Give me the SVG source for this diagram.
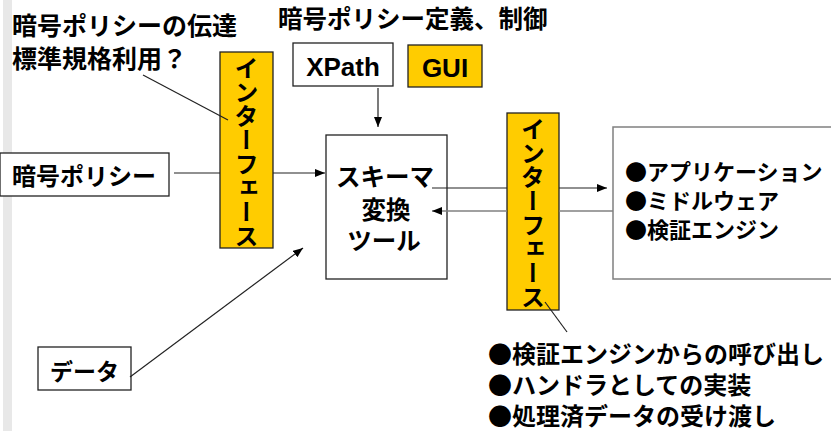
<svg xmlns="http://www.w3.org/2000/svg" width="831" height="431" viewBox="0 0 831 431">
<style>
.t{font-family:"Noto Sans CJK JP","Liberation Sans",sans-serif;font-weight:700;fill:#000}
.lat{font-family:"Liberation Sans",Arial,sans-serif;font-weight:700;fill:#000}
.box{fill:#fff;stroke:#222;stroke-width:1.3}
.gold{fill:#FFCC00;stroke:#222;stroke-width:1.3}
.gbox{fill:#fff;stroke:#808080;stroke-width:1.5}
.ln{stroke:#222;stroke-width:1.2;fill:none}
.gl{stroke:#808080;stroke-width:1.5;fill:none}
</style>
<defs>
<marker id="ah" markerUnits="userSpaceOnUse" markerWidth="11" markerHeight="9" refX="10" refY="4" orient="auto">
<path d="M0,0 L10,4 L0,8 z" fill="#000"/>
</marker>
</defs>
<rect x="3" y="0" width="9" height="431" fill="#E8E8E8"/>
<g id="label-top-left">
<text class="t" x="12" y="35" font-size="25">暗号ポリシーの伝達</text>
<text class="t" x="12" y="68" font-size="25">標準規格利用？</text>
</g>
<g id="label-top">
<text class="t" x="278" y="28" font-size="24.5">暗号ポリシー定義、制御</text>
</g>
<g id="xpath">
<rect class="box" x="293" y="43" width="100" height="43"/>
<text class="lat" x="343" y="76" font-size="26" text-anchor="middle">XPath</text>
</g>
<g id="gui">
<rect class="gold" x="408" y="45" width="74" height="42"/>
<text class="lat" x="445" y="77" font-size="26" text-anchor="middle">GUI</text>
</g>
<g id="policy">
<rect class="box" x="0" y="153" width="169" height="43"/>
<text class="t" x="12" y="185" font-size="24">暗号ポリシー</text>
</g>
<g id="interface-left">
<rect class="gold" x="220" y="52" width="53" height="196"/>
<text class="t" x="246.5" y="56" font-size="24" writing-mode="vertical-rl">インターフェース</text>
</g>
<g id="schema">
<rect class="box" x="326" y="135" width="121" height="144"/>
<text class="t" x="385" y="186" font-size="24.5" text-anchor="middle">スキーマ</text>
<text class="t" x="386" y="219" font-size="24.5" text-anchor="middle">変換</text>
<text class="t" x="384" y="250" font-size="24.5" text-anchor="middle">ツール</text>
</g>
<g id="interface-right">
<rect class="gold" x="507" y="113" width="52" height="197"/>
<text class="t" x="533" y="117" font-size="24" writing-mode="vertical-rl">インターフェース</text>
</g>
<g id="targets">
<rect class="gbox" x="613" y="127" width="230" height="152"/>
<text class="t" x="625" y="180" font-size="22">●アプリケーション</text>
<text class="t" x="625" y="209" font-size="22">●ミドルウェア</text>
<text class="t" x="625" y="238" font-size="22">●検証エンジン</text>
</g>
<g id="data">
<rect class="box" x="38" y="347" width="93" height="43"/>
<text class="t" x="50" y="380" font-size="23">データ</text>
</g>
<g id="label-bottom">
<text class="t" x="488" y="363" font-size="24">●検証エンジンからの呼び出し</text>
<text class="t" x="488" y="394" font-size="24">●ハンドラとしての実装</text>
<text class="t" x="488" y="425" font-size="24">●処理済データの受け渡し</text>
</g>
<g id="connectors">
<line class="ln" x1="174" y1="173" x2="220" y2="173"/>
<line class="ln" x1="273" y1="173" x2="325" y2="173" marker-end="url(#ah)"/>
<line class="ln" x1="143" y1="75" x2="228" y2="120"/>
<line class="ln" x1="378" y1="88" x2="378" y2="127" marker-end="url(#ah)"/>
<line class="ln" x1="130" y1="377" x2="303" y2="248" marker-end="url(#ah)"/>
<line class="ln" x1="432" y1="188" x2="507" y2="188"/>
<line class="ln" x1="559" y1="188" x2="607" y2="188" marker-end="url(#ah)"/>
<line class="gl" x1="613" y1="211" x2="559" y2="211"/>
<line class="gl" x1="507" y1="211" x2="432" y2="211" marker-end="url(#ah)"/>
<line class="ln" x1="545" y1="302" x2="567" y2="332"/>
</g>
</svg>
